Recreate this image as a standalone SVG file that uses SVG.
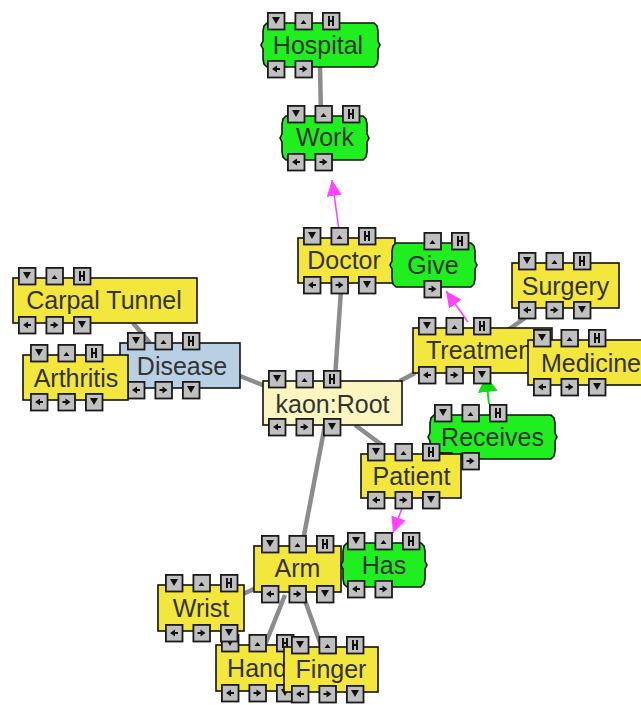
<svg xmlns="http://www.w3.org/2000/svg" width="641" height="705" viewBox="0 0 641 705">
<style>
.y{fill:#f3e63c;stroke:#111;stroke-width:1.6}
.p{fill:#fbf6c0;stroke:#111;stroke-width:1.6}
.g{fill:#1fef1f;stroke:#111;stroke-width:1.6}
.bl{fill:#b9d0e4;stroke:#111;stroke-width:1.6}
.t{font-family:"Liberation Sans",Arial,sans-serif;font-size:25px;fill:#333;text-anchor:middle}
.e{stroke:#8c8c8c;stroke-width:4.5;fill:none}
.m{stroke:#ff44ff;stroke-width:1.6;fill:none}
.gr{stroke:#10dd10;stroke-width:2;fill:none}
.b{fill:#c0c0c0;stroke:#1a1a1a;stroke-width:1.8}
.k{fill:#111}
</style>
<defs>
<marker id="am" markerUnits="userSpaceOnUse" markerWidth="16" markerHeight="15" viewBox="0 0 16 15" refX="16" refY="7.5" orient="auto"><path d="M0,0L16,7.5L0,15Z" fill="#ff44ff"/></marker>
<marker id="ag" markerUnits="userSpaceOnUse" markerWidth="16" markerHeight="20" viewBox="0 0 16 20" refX="16" refY="10" orient="auto"><path d="M0,0L16,10L0,20Z" fill="#10dd10"/></marker>
<g id="bd"><rect class="b" x="0.9" y="0.9" width="16.6" height="16.6"/><path class="k" d="M5,5H13L9,12Z"/></g>
<g id="bu"><rect class="b" x="0.9" y="0.9" width="16.6" height="16.6"/><path class="k" d="M6,12H12L9,8Z"/></g>
<g id="bh"><rect class="b" x="0.9" y="0.9" width="16.6" height="16.6"/><path class="k" d="M6,4H8V14H6Z M10,4H12V14H10Z M6,8H12V10H6Z"/></g>
<g id="bl"><rect class="b" x="0.9" y="0.9" width="16.6" height="16.6"/><path class="k" d="M5,9L10,5.5V12.5Z M10,8H13V10H10Z"/></g>
<g id="br"><rect class="b" x="0.9" y="0.9" width="16.6" height="16.6"/><path class="k" d="M13,9L8,5.5V12.5Z M5,8H8V10H5Z"/></g>
</defs>

<g id="connectors">
<line class="e" x1="320" y1="67" x2="321" y2="116"/>
<line class="e" x1="341" y1="290" x2="335" y2="378"/>
<line class="e" x1="400" y1="381" x2="415" y2="373"/>
<line class="e" x1="240" y1="376" x2="265" y2="386"/>
<line class="e" x1="133" y1="323" x2="150" y2="343"/>
<line class="e" x1="508" y1="330" x2="525" y2="318"/>
<line class="e" x1="355" y1="425" x2="382" y2="445"/>
<line class="e" x1="325" y1="425" x2="302" y2="546"/>
<line class="e" x1="256" y1="588" x2="243" y2="594"/>
<line class="e" x1="285" y1="595" x2="265" y2="645"/>
<line class="e" x1="303" y1="595" x2="322" y2="648"/>
<line class="m" x1="339" y1="230" x2="332" y2="180" marker-end="url(#am)"/>
<line class="m" x1="468" y1="322" x2="446" y2="291" marker-end="url(#am)"/>
<line class="m" x1="402" y1="508" x2="393" y2="533" marker-end="url(#am)"/>
<line class="gr" x1="489" y1="404" x2="486" y2="376" marker-end="url(#ag)"/>
</g>

<g id="hospital">
<path class="g" d="M267,23H374L377,26L378,31V41L380,45L378,49V59L377,64L374,67H267L264,64L263,59V49L261,45L263,41V31L264,26Z"/>
<text class="t" x="318" y="54">Hospital</text>
<use href="#bd" x="267" y="12"/><use href="#bu" x="294.5" y="12"/><use href="#bh" x="322" y="12"/>
<use href="#bl" x="267" y="60"/><use href="#br" x="294.5" y="60"/>
</g>

<g id="work">
<path class="g" d="M286,116H363L366,119L367,124V134L369,138L367,142V152L366,157L363,160H286L283,157L282,152V142L280,138L282,134V124L283,119Z"/>
<text class="t" x="325" y="146">Work</text>
<use href="#bd" x="287" y="105"/><use href="#bu" x="314.5" y="105"/><use href="#bh" x="342" y="105"/>
<use href="#bl" x="287" y="153"/><use href="#br" x="314.5" y="153"/>
</g>

<g id="doctor">
<rect class="y" x="298" y="238" width="97" height="45"/>
<text class="t" x="344" y="269">Doctor</text>
<use href="#bd" x="303" y="227"/><use href="#bu" x="330.5" y="227"/><use href="#bh" x="358" y="227"/>
<use href="#bl" x="303" y="276"/><use href="#br" x="330.5" y="276"/><use href="#bd" x="358" y="276"/>
</g>

<g id="give">
<path class="g" d="M396,243H471L474,246L475,251V261L477,265L475,269V279L474,284L471,287H396L393,284L392,279V269L390,265L392,261V251L393,246Z"/>
<text class="t" x="433" y="274">Give</text>
<use href="#bu" x="423.5" y="232"/><use href="#bh" x="451" y="232"/>
<use href="#br" x="423.5" y="280"/>
</g>

<g id="carpal">
<rect class="y" x="13" y="278" width="184" height="45"/>
<text class="t" x="104" y="309">Carpal Tunnel</text>
<use href="#bd" x="18" y="267"/><use href="#bu" x="45.5" y="267"/><use href="#bh" x="73" y="267"/>
<use href="#bl" x="18" y="316"/><use href="#br" x="45.5" y="316"/><use href="#bd" x="73" y="316"/>
</g>

<g id="disease">
<rect class="bl" x="120" y="343" width="120" height="45"/>
<text class="t" x="182" y="375">Disease</text>
<use href="#bd" x="127" y="332"/><use href="#bu" x="154.5" y="332"/><use href="#bh" x="182" y="332"/>
<use href="#bl" x="127" y="381"/><use href="#br" x="154.5" y="381"/><use href="#bd" x="182" y="381"/>
</g>

<g id="arthritis">
<rect class="y" x="23" y="355" width="105" height="45"/>
<text class="t" x="76" y="387">Arthritis</text>
<use href="#bd" x="30" y="344"/><use href="#bu" x="57.5" y="344"/><use href="#bh" x="85" y="344"/>
<use href="#bl" x="30" y="393"/><use href="#br" x="57.5" y="393"/><use href="#bd" x="85" y="393"/>
</g>

<g id="surgery">
<rect class="y" x="512" y="263" width="107" height="45"/>
<text class="t" x="565.5" y="295">Surgery</text>
<use href="#bd" x="518" y="252"/><use href="#bu" x="545.5" y="252"/><use href="#bh" x="573" y="252"/>
<use href="#bl" x="518" y="301"/><use href="#br" x="545.5" y="301"/><use href="#bd" x="573" y="301"/>
</g>

<g id="treatment">
<rect class="y" x="413" y="328" width="139" height="45"/>
<text class="t" x="482.5" y="359">Treatment</text>
<use href="#bd" x="418" y="317"/><use href="#bu" x="445.5" y="317"/><use href="#bh" x="473" y="317"/>
<use href="#bl" x="418" y="366"/><use href="#br" x="445.5" y="366"/><use href="#bd" x="473" y="366"/>
</g>

<g id="medicine">
<rect class="y" x="528" y="340" width="130" height="45"/>
<text class="t" x="591" y="372">Medicine</text>
<use href="#bd" x="533" y="329"/><use href="#bu" x="560.5" y="329"/><use href="#bh" x="588" y="329"/>
<use href="#bl" x="533" y="378"/><use href="#br" x="560.5" y="378"/><use href="#bd" x="588" y="378"/>
</g>

<g id="root">
<rect class="p" x="263" y="381" width="139" height="44"/>
<text class="t" x="332.5" y="413">kaon:Root</text>
<use href="#bd" x="268" y="370"/><use href="#bu" x="295.5" y="370"/><use href="#bh" x="323" y="370"/>
<use href="#bl" x="268" y="418"/><use href="#br" x="295.5" y="418"/><use href="#bd" x="323" y="418"/>
</g>

<g id="receives">
<path class="g" d="M434,415H551L554,418L555,423V433L557,437L555,441V451L554,456L551,459H434L431,456L430,451V441L428,437L430,433V423L431,418Z"/>
<text class="t" x="492.5" y="446">Receives</text>
<use href="#bd" x="434" y="404"/><use href="#bu" x="461.5" y="404"/><use href="#bh" x="489" y="404"/>
<use href="#bl" x="434" y="452"/><use href="#br" x="461.5" y="452"/>
</g>

<g id="patient">
<rect class="y" x="361" y="454" width="100" height="44"/>
<text class="t" x="411.5" y="485">Patient</text>
<use href="#bd" x="367" y="443"/><use href="#bu" x="394.5" y="443"/><use href="#bh" x="422" y="443"/>
<use href="#bl" x="367" y="491"/><use href="#br" x="394.5" y="491"/><use href="#bd" x="422" y="491"/>
</g>

<g id="arm">
<rect class="y" x="254" y="546" width="87" height="46"/>
<text class="t" x="297.5" y="577">Arm</text>
<use href="#bd" x="261" y="535"/><use href="#bu" x="288.5" y="535"/><use href="#bh" x="316" y="535"/>
<use href="#bl" x="261" y="585"/><use href="#br" x="288.5" y="585"/><use href="#bd" x="316" y="585"/>
</g>

<g id="has">
<path class="g" d="M347,543H421L424,546L425,551V561L427,565L425,569V579L424,584L421,587H347L344,584L343,579V569L341,565L343,561V551L344,546Z"/>
<text class="t" x="384" y="574">Has</text>
<use href="#bd" x="347" y="532"/><use href="#bu" x="374.5" y="532"/><use href="#bh" x="402" y="532"/>
<use href="#bl" x="347" y="580"/><use href="#br" x="374.5" y="580"/>
</g>

<g id="hand">
<rect class="y" x="216" y="645" width="82" height="46"/>
<text class="t" x="257" y="677">Hand</text>
<use href="#bd" x="221" y="634"/><use href="#bu" x="248.5" y="634"/><use href="#bh" x="276" y="634"/>
<use href="#bl" x="221" y="684"/><use href="#br" x="248.5" y="684"/><use href="#bd" x="276" y="684"/>
</g>

<g id="wrist">
<rect class="y" x="158" y="585" width="86" height="46"/>
<text class="t" x="201" y="617">Wrist</text>
<use href="#bd" x="165" y="574"/><use href="#bu" x="192.5" y="574"/><use href="#bh" x="220" y="574"/>
<use href="#bl" x="165" y="624"/><use href="#br" x="192.5" y="624"/><use href="#bd" x="220" y="624"/>
</g>

<g id="finger">
<rect class="y" x="284" y="647" width="94" height="45"/>
<text class="t" x="331" y="678">Finger</text>
<use href="#bd" x="291" y="636"/><use href="#bu" x="318.5" y="636"/><use href="#bh" x="346" y="636"/>
<use href="#bl" x="291" y="685"/><use href="#br" x="318.5" y="685"/><use href="#bd" x="346" y="685"/>
</g>
</svg>
